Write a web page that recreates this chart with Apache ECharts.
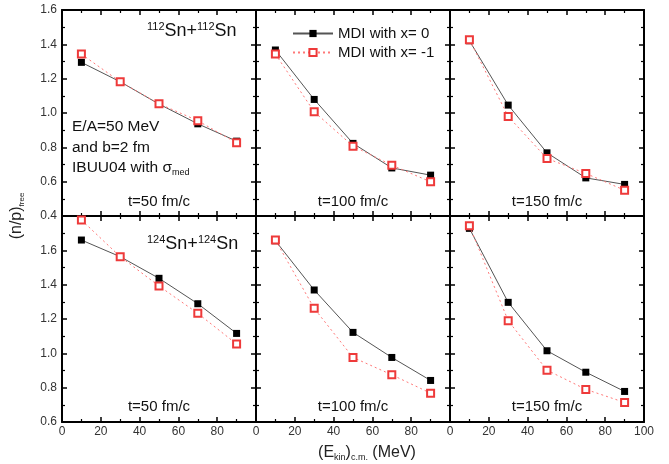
<!DOCTYPE html>
<html>
<head>
<meta charset="utf-8">
<script src="https://cdn.jsdelivr.net/npm/echarts@6/dist/echarts.min.js"></script>
<style>html,body{margin:0;padding:0;background:#fff}</style>
</head>
<body>
<div id="main" style="width:669px;height:464px;"></div>
<script type="text/javascript">
    // beam energy per nucleon in c.m. (MeV)
    var energies = [10, 30, 50, 70, 90];
    var timeLabels = ['t=50 fm/c', 't=100 fm/c', 't=150 fm/c'];
    var xTicks = [0, 20, 40, 60, 80, 100];
    var seriesNames = ['MDI with x= 0', 'MDI with x= -1'];

    // 112Sn+112Sn, one row per time (50, 100, 150 fm/c)
    var sn112_x0 = [
        [1.295, 1.182, 1.052, 0.937, 0.836],
        [1.367, 1.079, 0.823, 0.680, 0.638],
        [1.421, 1.046, 0.768, 0.622, 0.584]
    ];
    var sn112_xm1 = [
        [1.343, 1.182, 1.054, 0.955, 0.826],
        [1.343, 1.007, 0.807, 0.696, 0.599],
        [1.427, 0.980, 0.735, 0.648, 0.550]
    ];
    // 124Sn+124Sn
    var sn124_x0 = [
        [1.660, 1.563, 1.437, 1.289, 1.116],
        [1.656, 1.369, 1.122, 0.976, 0.842],
        [1.728, 1.297, 1.015, 0.890, 0.778]
    ];
    var sn124_xm1 = [
        [1.777, 1.563, 1.392, 1.233, 1.054],
        [1.660, 1.262, 0.976, 0.875, 0.768],
        [1.743, 1.190, 0.902, 0.790, 0.714]
    ];
    var yRanges = [[0.4, 1.6], [0.6, 1.8]];

    var FONT = '"Liberation Sans", Arial, sans-serif';
    var L = 62, T = 10, W = 194, H = 206;

    var grids = [], xAxes = [], yAxes = [], series = [];

    function axisBase() {
        return {
            axisLine: {show: true, onZero: false, lineStyle: {color: '#000', width: 2}},
            axisTick: {show: true, inside: true, length: 5, lineStyle: {color: '#000', width: 1.5}},
            minorTick: {show: true, splitNumber: 2, length: 3, lineStyle: {color: '#000', width: 1.2}},
            splitLine: {show: false},
            minorSplitLine: {show: false}
        };
    }

    for (var r = 0; r < 2; r++) {
        for (var c = 0; c < 3; c++) {
            var g = r * 3 + c;
            grids.push({left: L + c * W, top: T + r * H, width: W, height: H});

            ['bottom', 'top'].forEach(function (pos) {
                var ax = axisBase();
                ax.gridIndex = g;
                ax.type = 'value';
                ax.position = pos;
                ax.min = xTicks[0];
                ax.max = xTicks[xTicks.length - 1];
                ax.interval = 20;
                ax.axisLabel = {
                    show: pos === 'bottom' && r === 1,
                    margin: 4, color: '#333', fontSize: 12, fontFamily: FONT,
                    showMaxLabel: c === 2, showMinLabel: true
                };
                xAxes.push(ax);
            });

            ['left', 'right'].forEach(function (pos) {
                var ax = axisBase();
                ax.gridIndex = g;
                ax.type = 'value';
                ax.position = pos;
                ax.min = yRanges[r][0];
                ax.max = yRanges[r][1];
                ax.interval = 0.2;
                ax.axisLabel = {
                    show: pos === 'left' && c === 0,
                    margin: 5, color: '#333', fontSize: 12, fontFamily: FONT,
                    showMaxLabel: r === 0, showMinLabel: true,
                    formatter: function (v) { return v.toFixed(1); }
                };
                yAxes.push(ax);
            });

            var a = r === 0 ? sn112_x0[c] : sn124_x0[c];
            var b = r === 0 ? sn112_xm1[c] : sn124_xm1[c];
            series.push({
                name: seriesNames[0], type: 'line',
                xAxisIndex: g * 2, yAxisIndex: g * 2,
                data: energies.map(function (e, i) { return [e, a[i]]; }),
                symbol: 'rect', symbolSize: 7,
                itemStyle: {color: '#000'},
                lineStyle: {color: '#555', width: 1},
                z: 3
            });
            series.push({
                name: seriesNames[1], type: 'line',
                xAxisIndex: g * 2, yAxisIndex: g * 2,
                data: energies.map(function (e, i) { return [e, b[i]]; }),
                symbol: 'emptyRect', symbolSize: 7,
                itemStyle: {color: '#ee3a3a', borderWidth: 1.2},
                lineStyle: {color: '#ff7878', width: 1, type: [2, 3]},
                z: 4
            });
        }
    }

    var graphics = [];
    // panel time labels
    for (var r2 = 0; r2 < 2; r2++) {
        for (var c2 = 0; c2 < 3; c2++) {
            graphics.push({
                type: 'text', x: L + c2 * W + W / 2, y: r2 === 0 ? 202 : 407,
                style: {text: timeLabels[c2], fontSize: 15, fontFamily: FONT, fill: '#111',
                    align: 'center', verticalAlign: 'middle'}
            });
        }
    }
    var isoRich = {
        sup: {fontSize: 11, fontFamily: FONT, fill: '#111', verticalAlign: 'top', lineHeight: 11},
        m: {fontSize: 18, fontFamily: FONT, fill: '#111', lineHeight: 20}
    };
    graphics.push({
        type: 'text', x: 147, y: 31,
        style: {text: '{sup|112}{m|Sn+}{sup|112}{m|Sn}', rich: isoRich, verticalAlign: 'middle'}
    });
    graphics.push({
        type: 'text', x: 147, y: 244,
        style: {text: '{sup|124}{m|Sn+}{sup|124}{m|Sn}', rich: isoRich, verticalAlign: 'middle'}
    });
    graphics.push({
        type: 'text', x: 72, y: 127,
        style: {text: 'E/A=50 MeV', fontSize: 15.5, fontFamily: FONT, fill: '#111', verticalAlign: 'middle'}
    });
    graphics.push({
        type: 'text', x: 72, y: 148,
        style: {text: 'and b=2 fm', fontSize: 15.5, fontFamily: FONT, fill: '#111', verticalAlign: 'middle'}
    });
    graphics.push({
        type: 'text', x: 72, y: 168,
        style: {
            text: '{m|IBUU04 with \u03c3}{s|med}',
            verticalAlign: 'middle',
            rich: {
                m: {fontSize: 15.5, fontFamily: FONT, fill: '#111', lineHeight: 18},
                s: {fontSize: 9, fontFamily: FONT, fill: '#111', verticalAlign: 'bottom', lineHeight: 9}
            }
        }
    });
    // axis names
    graphics.push({
        type: 'text', x: 367, y: 453,
        style: {
            text: '{m|(E}{s|kin}{m|)}{s|c.m.}{m| (MeV)}',
            align: 'center', verticalAlign: 'middle',
            rich: {
                m: {fontSize: 16, fontFamily: FONT, fill: '#222', lineHeight: 18},
                s: {fontSize: 9, fontFamily: FONT, fill: '#222', verticalAlign: 'bottom', lineHeight: 9}
            }
        }
    });
    graphics.push({
        type: 'text', x: 17, y: 216, rotation: Math.PI / 2,
        style: {
            text: '{m|(n/p)}{s|free}',
            align: 'center', verticalAlign: 'middle',
            rich: {
                m: {fontSize: 16, fontFamily: FONT, fill: '#222', lineHeight: 18},
                s: {fontSize: 8, fontFamily: FONT, fill: '#222', verticalAlign: 'bottom', lineHeight: 8}
            }
        }
    });

    var myChart = echarts.init(document.getElementById('main'));
    myChart.setOption({
        animation: false,
        backgroundColor: '#fff',
        grid: grids,
        xAxis: xAxes,
        yAxis: yAxes,
        legend: {
            data: seriesNames,
            orient: 'vertical', left: 287, top: 21,
            itemWidth: 40, itemHeight: 9, itemGap: 4,
            textStyle: {fontSize: 15, fontFamily: FONT, color: '#111'}
        },
        series: series,
        graphic: graphics
    });
</script>
</body>
</html>
